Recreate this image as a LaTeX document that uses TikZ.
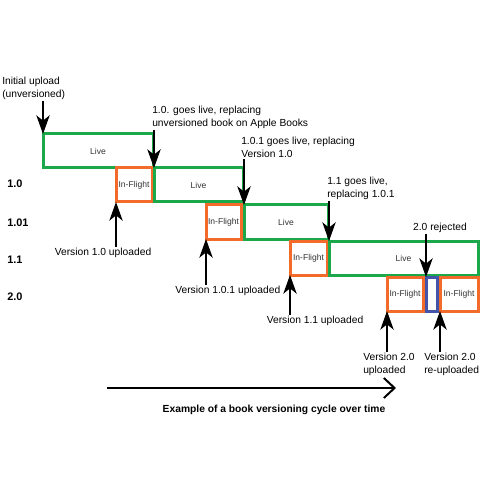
\documentclass[tikz,border=0pt]{standalone}
\usepackage{fontspec}
\setmainfont{Liberation Sans}
\usetikzlibrary{arrows.meta}

\definecolor{livegreen}{RGB}{27,168,74}
\definecolor{flightorange}{RGB}{242,107,42}
\definecolor{rejectblue}{RGB}{67,85,168}

\begin{document}
\begin{tikzpicture}[x=0.75pt,y=0.75pt,yscale=-1,xscale=1,
    every node/.style={inner sep=0.75pt,font=\fontsize{7.7}{9.75}\selectfont},
    stagebox/.style={rectangle,anchor=north west,inner sep=0pt,outer sep=0pt,
      line width=2.25pt,fill=white,minimum height=25.5pt,text=black!80,
      font=\fontsize{6.4}{8}\selectfont},
    livebox/.style={stagebox,draw=livegreen},
    flightbox/.style={stagebox,draw=flightorange},
    rejectbox/.style={stagebox,draw=rejectblue},
    note/.style={align=left},
    rowlabel/.style={anchor=west,font=\bfseries\fontsize{8.2}{10}\selectfont},
    pointer/.style={line width=1.5pt,-{Stealth[length=14pt,width=10pt,inset=4pt]}},
    timeline/.style={line width=1.5pt,-{Straight Barb[length=8pt,width=15pt]}}]
    \useasboundingbox (0,0) rectangle (480,491);
    \fill[white] (0,0) rectangle (480,491);

    %Row labels
    \node[rowlabel] (rowA) at (6,184) {1.0};
    \node[rowlabel] (rowB) at (6,223) {1.01};
    \node[rowlabel] (rowC) at (6,260) {1.1};
    \node[rowlabel] (rowD) at (6,297) {2.0};

    %Shape: Live / In-Flight boxes
    \node[livebox,minimum width=82.5pt] (liveA) at (43,134) {Live};
    \node[flightbox,minimum width=27pt] (flightA) at (116,168) {In-Flight};
    \node[livebox,minimum width=66.75pt] (liveB) at (154,168) {Live};
    \node[flightbox,minimum width=26.25pt] (flightB) at (206,205) {In-Flight};
    \node[livebox,minimum width=63pt] (liveC) at (244,205) {Live};
    \node[flightbox,minimum width=27.75pt] (flightC) at (290,241) {In-Flight};
    \node[livebox,minimum width=111.75pt] (liveD) at (329,241) {Live};
    \node[flightbox,minimum width=27pt] (flightD) at (387,277) {In-Flight};
    \node[rejectbox,minimum width=8.25pt] (rejected) at (426,277) {};
    \node[flightbox,minimum width=28.5pt] (flightE) at (440,277) {In-Flight};

    % Text Node
    \node[note,anchor=south west] (initial) at (1,101) {Initial upload\\(unversioned)};
    % Text Node
    \node[note,anchor=south west] (goesA) at (151,130) {1.0. goes live, replacing\\unversioned book on Apple Books};
    % Text Node
    \node[note,anchor=south west] (goesB) at (240,159) {1.0.1 goes live, replacing\\Version 1.0};
    % Text Node
    \node[note,anchor=south west] (goesC) at (326,201) {1.1 goes live,\\replacing 1.0.1};
    % Text Node
    \node[anchor=south] (rejectNote) at (440,234) {2.0 rejected};
    % Text Node
    \node (upA) at (103,253) {Version 1.0 uploaded};
    % Text Node
    \node[anchor=west] (upB) at (174,291) {Version 1.0.1 uploaded};
    % Text Node
    \node (upC) at (315,321) {Version 1.1 uploaded};
    % Text Node
    \node[note,anchor=north west] (upD) at (362,352) {Version 2.0\\uploaded};
    % Text Node
    \node[note,anchor=north west] (upE) at (423,352) {Version 2.0\\re-uploaded};

    %Arrows down
    \draw[pointer] (initial.south -| liveA.north west) -- (liveA.north west);
    \draw[pointer] (goesA.south -| liveB.north west) -- (liveB.north west);
    \draw[pointer] (goesB.south -| liveC.north west) -- (liveC.north west);
    \draw[pointer] (goesC.south -| liveD.north west) -- (liveD.north west);
    \draw[pointer] (rejectNote.south -| rejected.north west) -- (rejected.north west);
    %Arrows up
    \draw[pointer] (upA.north -| flightA.south west) -- (flightA.south west);
    \draw[pointer] (upB.north -| flightB.south west) -- (flightB.south west);
    \draw[pointer] (upC.north -| flightC.south west) -- (flightC.south west);
    \draw[pointer] (upD.north -| flightD.south west) -- (flightD.south west);
    \draw[pointer] (upE.north -| flightE.south west) -- (flightE.south west);

    %Time axis
    \coordinate (tstart) at (107,388);
    \coordinate (tend) at (396,388);
    \draw[timeline] (tstart) -- (tend);
    \node[font=\bfseries\fontsize{7.7}{9.75}\selectfont] (caption) at (274,410) {Example of a book versioning cycle over time};
\end{tikzpicture}
\end{document}
